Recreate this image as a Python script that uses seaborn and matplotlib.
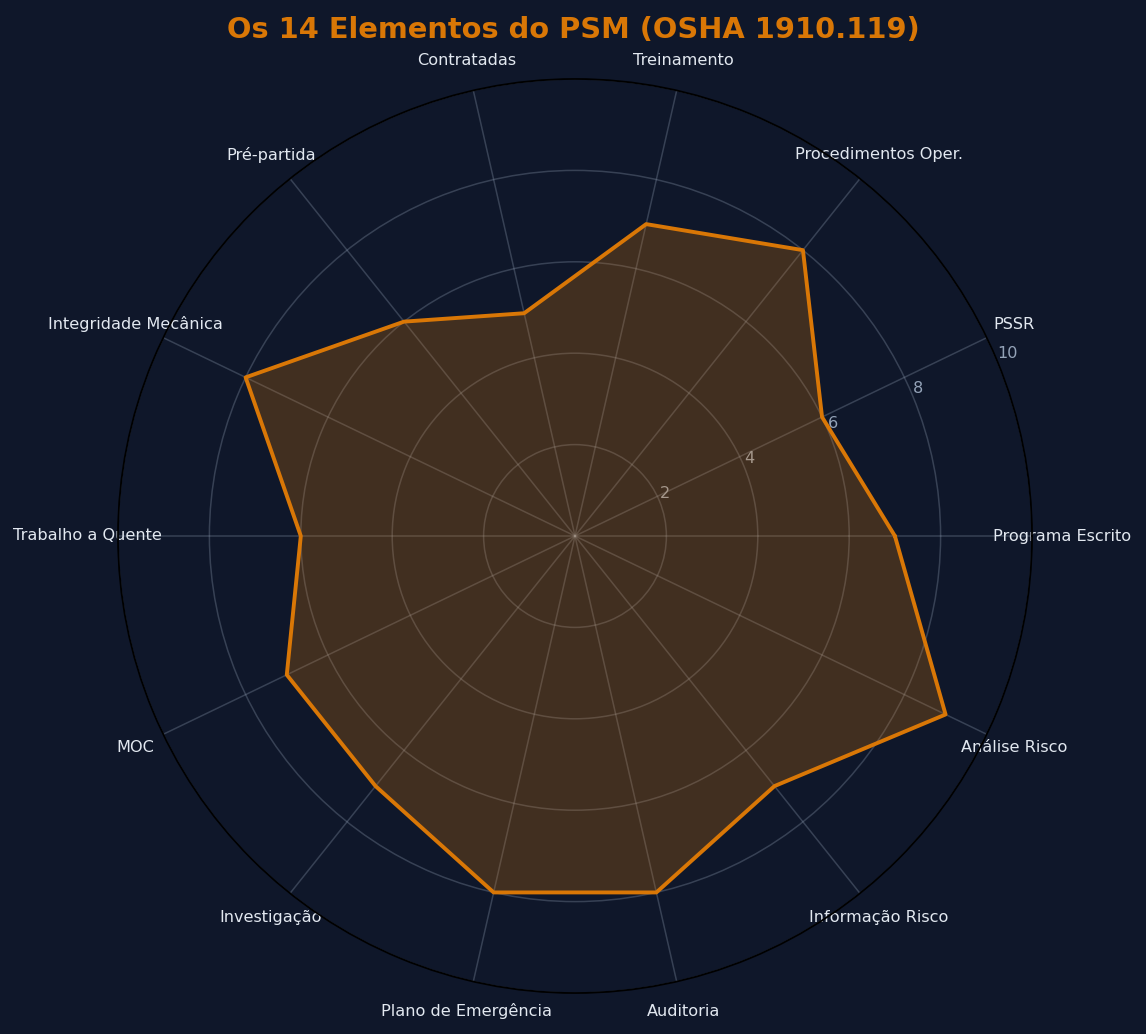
import numpy as np
import pandas as pd
import matplotlib
matplotlib.use("Agg")
import matplotlib.pyplot as plt
import seaborn as sns

categories = ["Programa Escrito", "PSSR", "Procedimentos Oper.", "Treinamento",
              "Contratadas", "Pré-partida", "Integridade Mecânica", "Trabalho a Quente",
              "MOC", "Investigação", "Plano de Emergência", "Auditoria",
              "Informação Risco", "Análise Risco"]
scores = [7, 6, 8, 7, 5, 6, 8, 6, 7, 7, 8, 8, 7, 9]
r_ticks = [2, 4, 6, 8, 10]

BG = "#0f172a"
ORANGE = "#d97706"

sns.set_theme(style="dark")
plt.rcParams['font.family'] = ['DejaVu Sans']

n = len(categories)
angles = np.linspace(0, 2 * np.pi, n, endpoint=False)
df = pd.DataFrame({"angle": np.append(angles, angles[0]),
                   "score": scores + [scores[0]]})

fig = plt.figure(figsize=(11.46, 10.34), dpi=100, facecolor=BG)
ax = fig.add_axes([118/1146, 41/1034, 914/1146, 914/1034], projection="polar")
ax.set_facecolor(BG)

sns.lineplot(data=df, x="angle", y="score", ax=ax, sort=False,
             color=ORANGE, linewidth=2.8, estimator=None)
ax.fill(df["angle"], df["score"], color=ORANGE, alpha=0.25, zorder=1)

ax.set_ylim(0, 10)
ax.set_yticks(r_ticks)
ax.set_yticklabels([str(t) for t in r_ticks], color="#94a3b8", fontsize=11.6)
ax.set_rlabel_position(22.5)
ax.set_xticks(angles)
ax.set_xticklabels(categories, color="#e2e8f0", fontsize=11.6)
ax.tick_params(axis="x", pad=9)
ax.set_xlabel("")
ax.set_ylabel("")
ax.grid(True, color="#94a3b8", alpha=0.3, linewidth=1.1)
ax.spines["polar"].set_color("black")
ax.spines["polar"].set_linewidth(1.3)

fig.suptitle("Os 14 Elementos do PSM (OSHA 1910.119)", color=ORANGE,
             fontsize=20.8, fontweight="bold", y=0.985)

fig.savefig("out.png", dpi=100, facecolor=BG)
